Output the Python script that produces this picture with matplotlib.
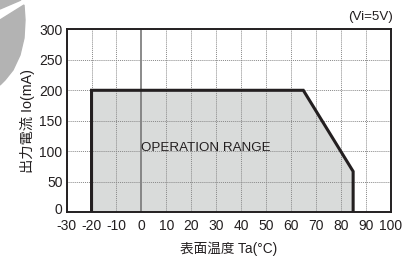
import matplotlib
matplotlib.use('Agg')
import matplotlib.pyplot as plt
import matplotlib.transforms as mtransforms
from matplotlib.patches import Polygon

plt.rcParams['font.family'] = ['Liberation Sans', 'Noto Sans CJK JP', 'DejaVu Sans']
plt.rcParams['axes.unicode_minus'] = False

# operating area (derating curve)
temp = [-20, -20, 65, 85, 85]
current = [0, 200, 200, 67, 0]
xticks = list(range(-30, 101, 10))
yticks = list(range(0, 301, 50))

fig = plt.figure(figsize=(4.19, 2.57), dpi=100)
ax = fig.add_axes([0.159, 0.174, 0.773, 0.712])

ax.fill(temp, current, color='#d9dbda', zorder=1)
ax.plot(temp, current, color='#231f20', lw=2.2, zorder=4, solid_joinstyle='miter')

for x in xticks:
    if x == 0:
        ax.axvline(x, color='#777777', lw=1.2, zorder=2)
    else:
        ax.axvline(x, color='#888888', lw=0.7, ls=(0, (1, 1)), zorder=2)
for y in yticks[1:]:
    ax.axhline(y, color='#888888', lw=0.7, ls=(0, (1, 1)), zorder=2)

ax.set_xlim(-30, 100)
ax.set_ylim(0, 300)
ax.set_xticks(xticks)
ax.set_yticks(yticks)
ax.tick_params(length=0, labelsize=10, colors='#231f20')
ax.tick_params(axis='x', pad=5)
ax.tick_params(axis='y', pad=3)
for s in ax.spines.values():
    s.set_color('#231f20')
    s.set_linewidth(1.4)
    s.set_zorder(5)

# nudge the "0" on the y axis up a little so it clears "-30"
fig.canvas.draw()
zero_lbl = ax.get_yticklabels()[0]
zero_lbl.set_transform(zero_lbl.get_transform() +
                       mtransforms.ScaledTranslation(0, 3 / 72, fig.dpi_scale_trans))

ax.text(26, 105, 'OPERATION RANGE', fontsize=9.6, color='#231f20', ha='center', va='center', zorder=3)
ax.set_xlabel('表面温度 Ta(°C)', fontsize=9.8, color='#231f20', labelpad=6)
ax.set_ylabel('出力電流 Io(mA)', fontsize=10.3, color='#231f20', labelpad=3)
fig.text(0.937, 0.935, '(Vi=5V)', fontsize=9.6, color='#231f20', ha='right', va='center')

# grey watermark fragment at top-left
W, H = 419, 257
def fp(pts):
    return [(x / W, 1 - y / H) for x, y in pts]
fig.patches.append(Polygon(fp([(0, 0), (21, 0), (0, 9)]), closed=True,
                           transform=fig.transFigure, color='#b3b3b3', zorder=0))
fig.patches.append(Polygon(fp([(0, 20), (24, 5), (25, 20), (24, 38), (20, 55),
                               (13, 70), (5, 80), (0, 85)]), closed=True,
                           transform=fig.transFigure, color='#b3b3b3', zorder=0))

fig.savefig('out.png', dpi=100)
